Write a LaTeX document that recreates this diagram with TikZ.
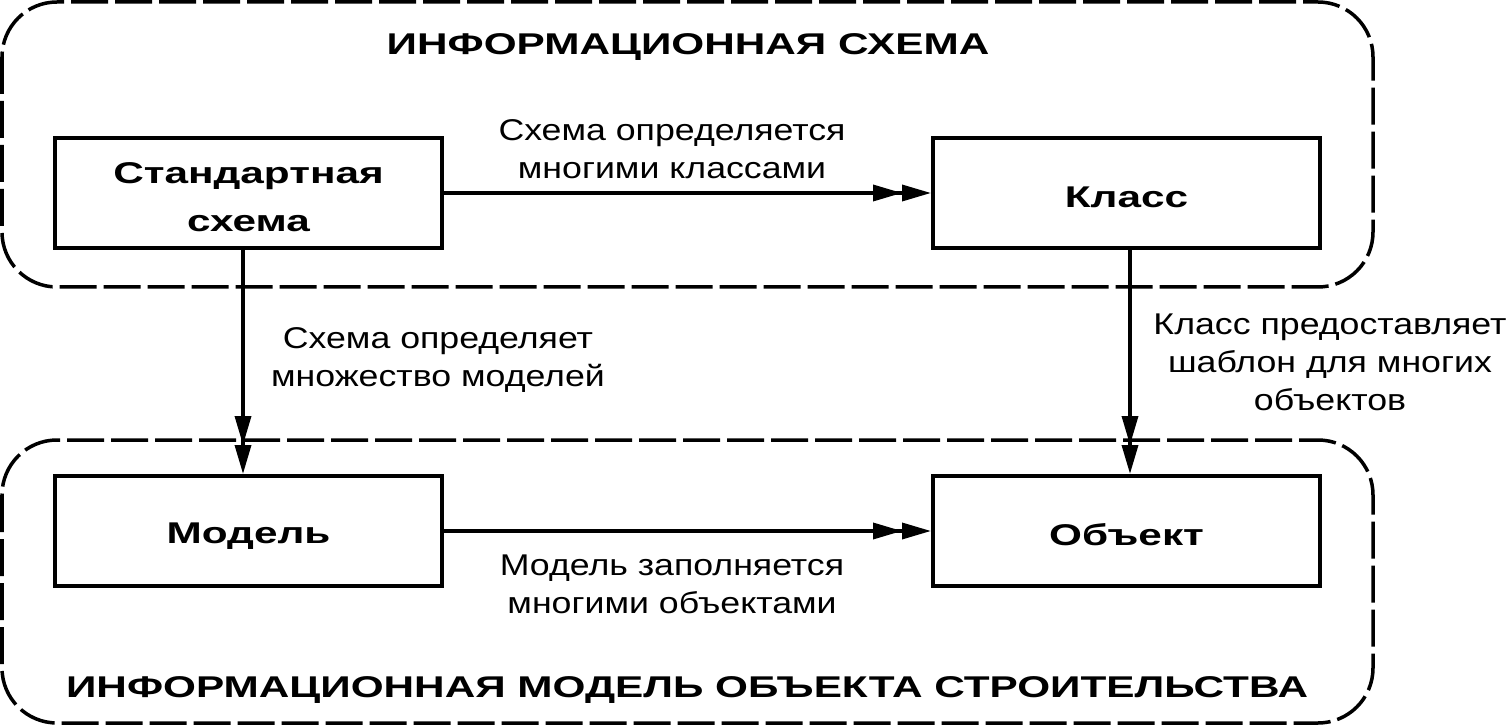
\documentclass[tikz,border=0pt]{standalone}
\usepackage{fontspec}
\setmainfont[FakeStretch=1.19]{Liberation Sans}
\newfontfamily\headfont[FakeStretch=1.41]{Liberation Sans Bold}
\usetikzlibrary{arrows.meta,positioning}

\begin{document}
\begin{tikzpicture}[x=1pt,y=-1pt,
	box/.style={draw, line width=4pt, minimum width=387pt, minimum height=110pt,
		align=center, inner sep=0pt, text height=30pt,
		font=\fontsize{30}{48}\selectfont\headfont},
	region/.style={draw, line width=3.5pt, dash pattern=on 37pt off 7pt, rounded corners=55pt},
	note/.style={align=center, inner sep=0pt, font=\fontsize{30}{38}\selectfont},
	heading/.style={inner sep=0pt, font=\fontsize{30}{36}\selectfont\headfont},
	link/.style={line width=3.5pt,
		-{Triangle[length=29pt,width=16pt]Triangle[length=29pt,width=16pt]}}]

	% ---- frame

	\useasboundingbox (0,0) rectangle (1508,727);

	% ---- regions

	\draw[region] (2,2) rectangle (1373,287);
	\draw[region] (2,440) rectangle (1373,723);

	\node[heading] (infoschema) at (688,47) {ИНФОРМАЦИОННАЯ СХЕМА};
	\node[heading] (infomodel) at (687,690) {ИНФОРМАЦИОННАЯ МОДЕЛЬ ОБЪЕКТА СТРОИТЕЛЬСТВА};

	% ---- boxes

	\node[box, text height=78pt] (schema) at (248.5,193) {Стандартная\\схема};
	\node[box] (class) at (1126.5,193) {Класс};
	\node[box] (model) at (248.5,531) {Модель};
	\node[box] (object) at (1126.5,531) {Объект};

	% ---- links

	\draw[link] (schema) -- (class);
	\draw[link] (model) -- (object);
	\draw[link] ([xshift=-5.5pt]schema.south) -- ([xshift=-5.5pt]model.north);
	\draw[link] ([xshift=3.5pt]class.south) -- ([xshift=3.5pt]object.north);

	% ---- link labels

	\node[note] (defclasses) at (672,149) {Схема определяется\\многими классами};
	\node[note] (fillobjects) at (672,584) {Модель заполняется\\многими объектами};
	\node[note] (defmodels) at (438,360) {Схема определяет\\множество моделей};
	\node[note] (template) at (1330,362) {Класс предоставляет\\шаблон для многих\\объектов};

\end{tikzpicture}
\end{document}
